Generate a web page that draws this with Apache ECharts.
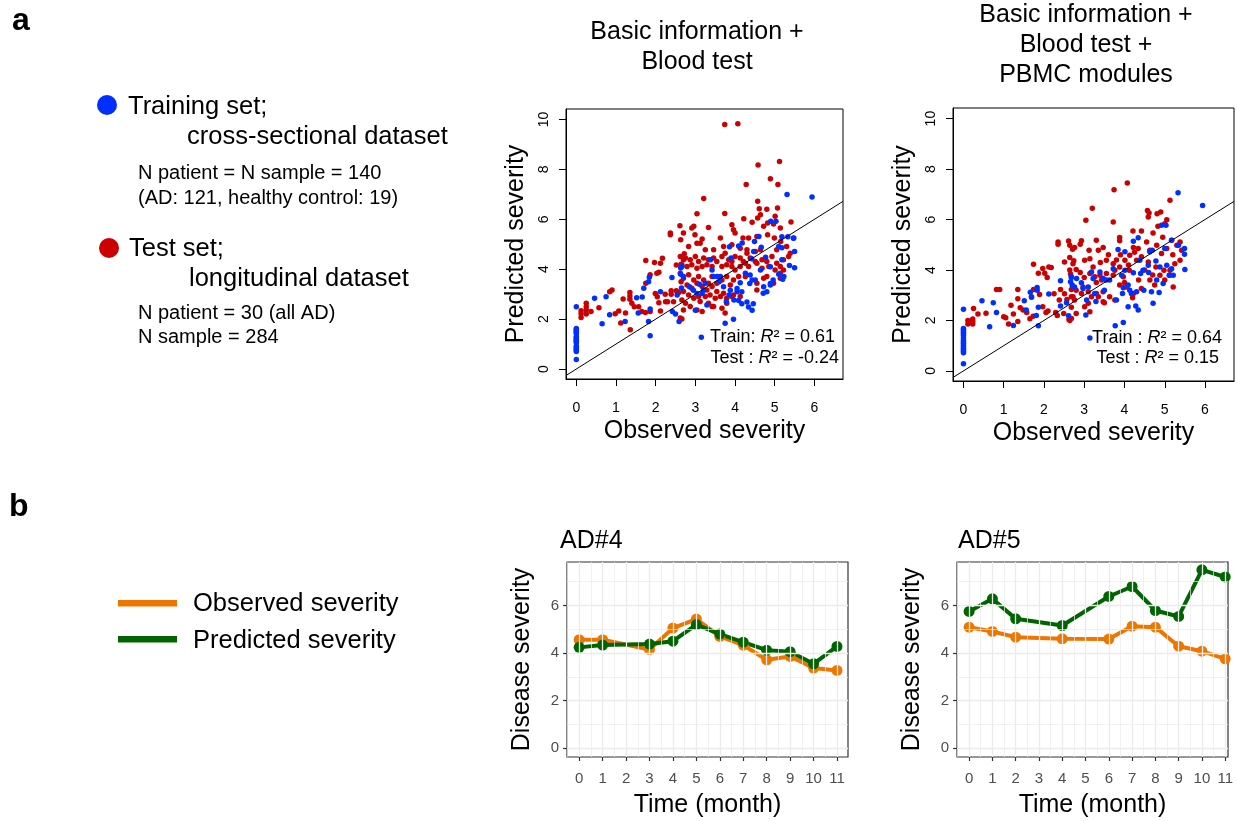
<!DOCTYPE html>
<html>
<head>
<meta charset="utf-8">
<title>Disease severity prediction</title>
<script src="https://cdn.jsdelivr.net/npm/echarts@6.0.0/dist/echarts.min.js"></script>
<style>
  html, body { margin: 0; padding: 0; background: #fff; }
  #chart { width: 1237px; height: 821px; }
</style>
</head>
<body>
<div id="chart"></div>
<script>
// panel a: observed vs predicted severity (x = observed, y = predicted)
const sevTicks = [0, 1, 2, 3, 4, 5, 6];
const predTicks = [0, 2, 4, 6, 8, 10];
const identityLine = [[-0.26, -0.26], [6.72, 6.72]];

const bloodTrain = [
  [0, 2.5], [0, 1.62], [0, 1.57], [0, 1.52], [0, 1.47], [0, 1.42], [0, 1.3], [0, 1.25], [0, 1.2],
  [0, 1.15], [0, 1.1], [0, 1.05], [0, 0.92], [0, 0.87], [0, 0.8], [0, 0.75], [0, 0.7], [0, 0.38],
  [0.46, 2.84], [0.75, 2.9], [0.65, 1.81], [0.84, 2.17], [1.23, 1.9], [1.52, 2.86], [1.56, 2.24],
  [1.66, 2.89], [1.7, 3.24], [1.82, 3.5], [1.84, 3.68], [1.82, 1.9], [1.86, 1.33], [1.86, 2.41],
  [2.12, 3.1], [2.41, 3.67], [2.42, 2.3], [2.5, 2.2], [2.54, 2.97], [2.59, 1.9], [2.63, 4.05],
  [2.63, 3.8], [2.65, 3.25], [3.15, 1.27],
  [5.31, 6.99], [4.9, 5.92], [5.03, 5.92], [3.86, 4.9], [4.09, 4.93], [4.42, 4.42], [4.66, 4.88],
  [4.77, 4.48], [5.18, 5.3], [5.33, 5.3], [5.47, 5.24], [5.18, 4.86], [5.37, 4.15], [5.5, 4.06],
  [5.2, 3.6], [5.1, 3.8], [4.89, 4.1], [4.64, 3.97], [4.38, 3.77], [4.43, 3.57], [4.37, 3.43],
  [4.13, 3.46], [4.05, 3.23], [3.88, 3.16], [3.71, 3.3], [3.63, 3.71], [3.46, 3.71], [3.42, 3.97],
  [3.21, 3.16], [3.17, 3.03], [2.95, 3.16], [3.04, 3.03], [2.7, 3.71], [2.66, 4.11], [3.0, 2.36],
  [3.75, 1.83], [3.96, 1.99], [4.17, 2.62], [4.3, 2.69], [4.34, 2.49], [4.43, 2.36], [4.72, 3.3],
  [4.89, 3.43], [4.09, 2.75], [4.17, 3.1], [4.46, 2.62],
  [3.38, 4.38], [3.55, 3.71], [3.25, 3.44], [3.29, 2.57], [3.78, 2.7], [3.85, 2.97], [3.97, 2.77],
  [4.05, 3.1], [4.26, 3.84], [4.47, 4.71], [4.49, 5.11], [4.51, 3.57], [4.71, 3.04], [4.8, 3.1],
  [4.89, 3.37], [4.96, 3.57], [5.1, 4.91], [5.18, 4.38], [5.23, 3.71], [5.48, 5.25], [5.5, 4.71],
  [5.94, 6.89], [4.6, 5.31], [4.18, 5.05], [3.9, 4.45], [3.6, 3.5], [2.85, 3.3], [3.1, 3.4]
];

const bloodTest = [
  [0.12, 2.34], [0.12, 2.21], [0.12, 2.06], [0.25, 2.64], [0.25, 2.5], [0.25, 2.37], [0.25, 2.2],
  [0.37, 2.3], [0.57, 2.46], [0.84, 3.1], [0.9, 3.17], [0.98, 2.21], [1.07, 2.33], [1.12, 1.84],
  [1.18, 2.81], [1.24, 2.24], [1.35, 3.07], [1.35, 2.93], [1.35, 2.8], [1.4, 2.64], [1.46, 2.5],
  [1.57, 2.5], [1.36, 1.57], [1.65, 2.3], [1.74, 2.26], [1.75, 3.44], [1.75, 4.35], [1.86, 3.78],
  [1.86, 2.3], [1.97, 4.27], [1.99, 3.03], [2.03, 3.84], [2.04, 2.9], [2.08, 3.88], [2.12, 4.24],
  [2.17, 4.44], [2.08, 2.66], [2.12, 2.33], [2.24, 3.0], [2.25, 2.7], [2.3, 2.7], [2.37, 5.45],
  [2.37, 5.38], [2.39, 3.14], [2.39, 3.0], [2.45, 2.7], [2.52, 4.17], [2.52, 3.14], [2.58, 3.07],
  [2.61, 5.74], [2.63, 5.18], [2.64, 4.2], [2.64, 3.5], [2.66, 2.0], [2.7, 4.38], [2.72, 4.62],
  [2.62, 4.51], [2.75, 4.45], [2.87, 4.38], [3.0, 4.51], [3.08, 4.31], [3.21, 4.45], [3.33, 4.38],
  [3.46, 4.45], [3.54, 4.31], [3.67, 4.51], [3.75, 4.64], [3.84, 4.38], [3.92, 4.31], [4.0, 4.51],
  [4.13, 4.45], [4.21, 4.31], [4.3, 4.64], [4.38, 4.45], [4.51, 4.31], [4.68, 4.38], [4.8, 4.31],
  [4.93, 4.51], [5.05, 4.24], [5.22, 4.38], [5.35, 4.51], [2.66, 4.18], [2.79, 4.11], [2.91, 4.18],
  [3.04, 4.04], [3.17, 4.11], [3.29, 4.18], [3.42, 4.11], [3.67, 4.11], [3.79, 4.18], [3.92, 4.11],
  [4.0, 3.97], [4.13, 4.11], [4.26, 4.24], [4.34, 4.11], [4.55, 4.24], [4.68, 4.04], [4.85, 4.11],
  [5.01, 3.97], [5.14, 4.11],
  [2.62, 3.84], [2.7, 3.64], [2.83, 3.78], [2.96, 3.57], [3.08, 3.71], [3.21, 3.57], [3.33, 3.44],
  [3.42, 3.71], [3.54, 3.44], [3.67, 3.57], [3.79, 3.71], [3.96, 3.57], [4.09, 3.71], [4.26, 3.71],
  [2.79, 3.37], [2.91, 3.24], [3.04, 3.44], [3.17, 3.31], [3.29, 3.17], [3.42, 3.31], [3.54, 3.11],
  [3.71, 3.04], [3.88, 3.37], [2.7, 3.11], [2.83, 2.97], [2.96, 2.84], [3.08, 2.91], [3.25, 2.91],
  [3.37, 2.97], [3.5, 2.84], [3.63, 2.91], [3.79, 2.84], [3.96, 2.97], [4.55, 3.44], [4.72, 3.64],
  [4.97, 3.44], [5.14, 3.84], [5.22, 3.97], [2.66, 2.77], [2.75, 2.64], [3.12, 2.71], [3.33, 2.64],
  [3.46, 2.51], [3.79, 2.64], [3.92, 2.91], [4.13, 2.91], [4.55, 3.17], [5.14, 3.64], [4.8, 3.71],
  [2.87, 2.51], [3.04, 2.37], [3.17, 2.3], [3.42, 2.51], [3.67, 2.44], [3.75, 2.24], [2.62, 2.04],
  [2.7, 2.37],
  [3.74, 9.8], [4.07, 9.83], [4.58, 8.18], [5.12, 8.32], [4.89, 7.62], [4.28, 7.39], [5.08, 7.39],
  [3.21, 6.83], [4.57, 6.72], [4.61, 6.42], [3.74, 6.23], [3.04, 6.22], [4.22, 6.02], [4.43, 5.88],
  [4.64, 6.18], [4.8, 6.4], [5.07, 6.45], [5.01, 6.12], [4.57, 6.05], [4.82, 5.85], [4.97, 5.81],
  [2.96, 5.72], [2.91, 5.65], [3.33, 5.67], [3.92, 5.78], [3.96, 5.58], [4.72, 5.72], [5.14, 5.65],
  [5.41, 5.89], [2.7, 5.45], [2.99, 5.38], [3.17, 5.21], [3.63, 5.25], [4.0, 5.45], [4.2, 5.25],
  [4.34, 5.25], [4.55, 5.31], [4.82, 5.38], [4.99, 5.25], [2.83, 4.91], [3.04, 5.04], [3.12, 5.04],
  [3.25, 4.78], [3.46, 4.78], [3.71, 4.91], [3.92, 4.98], [4.13, 4.84], [4.3, 4.78], [4.51, 4.71],
  [4.64, 4.78], [5.05, 4.78], [5.15, 5.11], [5.3, 4.91], [5.39, 4.64]
];

const pbmcTrain = [
  [0, 2.44], [0, 1.68], [0, 1.63], [0, 1.58], [0, 1.52], [0, 1.47], [0, 1.4], [0, 1.3], [0, 1.22],
  [0, 1.15], [0, 1.1], [0, 1.03], [0, 0.97], [0, 0.9], [0, 0.84], [0, 0.78], [0, 0.72], [0, 0.28],
  [0.46, 2.78], [0.65, 1.75], [0.74, 2.7], [0.82, 2.31], [1.24, 1.8], [1.51, 2.78], [1.56, 2.41],
  [1.66, 3.12], [1.69, 2.92], [1.83, 3.31], [1.83, 3.2], [1.81, 2.2], [1.86, 2.52], [1.86, 1.79],
  [2.12, 3.05], [2.41, 3.57], [2.41, 2.57], [2.56, 2.7], [2.61, 2.19], [2.66, 3.53], [2.68, 3.7],
  [2.7, 3.4], [3.14, 1.3],
  [5.33, 7.06], [5.94, 6.56], [4.92, 5.77], [5.03, 5.77], [4.34, 5.28], [4.22, 5.14], [3.84, 4.81],
  [4.01, 4.72], [4.63, 4.72], [4.69, 4.78], [5.0, 4.85], [5.17, 5.18], [5.34, 4.98], [5.49, 4.85],
  [5.49, 4.62], [5.5, 4.02], [5.21, 3.79], [5.17, 4.05], [5.05, 4.19], [4.88, 4.12], [4.78, 4.36],
  [4.59, 4.19], [4.46, 3.99], [4.4, 3.86], [4.22, 3.89], [4.01, 3.99], [3.93, 3.79], [3.72, 4.05],
  [3.63, 3.6], [3.55, 3.6], [3.47, 3.66], [3.39, 3.92], [3.18, 3.92], [3.22, 3.66], [3.1, 3.33],
  [2.97, 3.27], [2.93, 3.49], [2.81, 3.66], [2.68, 3.73], [2.76, 3.33], [3.06, 2.81], [3.04, 2.22],
  [3.29, 2.75], [3.26, 3.07], [3.8, 2.81], [3.95, 3.07], [3.97, 3.3], [4.09, 3.4], [4.13, 3.2],
  [4.17, 3.07], [4.3, 3.14], [4.09, 2.54], [4.28, 2.57], [4.34, 2.41], [4.48, 3.2], [4.67, 3.14],
  [4.71, 2.68], [4.86, 3.11], [5.11, 3.79], [4.96, 3.46], [4.8, 3.6], [3.77, 1.79], [3.97, 1.92],
  [4.38, 4.39], [4.6, 3.9], [3.5, 3.2]
];

const pbmcTest = [
  [0.11, 2.0], [0.11, 1.86], [0.23, 2.06], [0.23, 1.96], [0.23, 1.86], [0.25, 2.47], [0.36, 2.26],
  [0.56, 2.29], [0.82, 3.23], [0.9, 3.23], [1.0, 2.15], [1.05, 2.11], [1.12, 1.86], [1.18, 2.6],
  [1.24, 2.26], [1.35, 3.23], [1.35, 2.86], [1.35, 1.96], [1.41, 2.5], [1.48, 2.41], [1.57, 2.31],
  [1.65, 2.07], [1.69, 2.94], [1.74, 3.23], [1.74, 4.23], [1.86, 3.87], [1.97, 4.06], [2.02, 3.87],
  [2.08, 3.7], [2.12, 4.12], [2.18, 4.1], [1.73, 2.17], [1.89, 3.03], [1.97, 2.54], [2.05, 2.31],
  [2.1, 2.37], [2.25, 3.06], [2.29, 2.31], [2.33, 2.2], [2.38, 2.81], [2.41, 3.23], [2.49, 2.28],
  [2.51, 3.06], [2.51, 4.32], [2.35, 5.11], [2.35, 5.02], [2.61, 5.15], [2.64, 4.98], [2.71, 4.82],
  [2.57, 2.83], [2.62, 2.04], [2.68, 2.52], [2.64, 4.0], [2.66, 3.84], [2.68, 3.23], [2.72, 2.94],
  [2.74, 4.37],
  [4.07, 7.45], [3.74, 7.18], [3.2, 6.45], [3.04, 5.97], [3.72, 5.9], [4.57, 6.36], [4.61, 6.26],
  [4.59, 6.1], [4.81, 6.23], [4.9, 6.3], [5.13, 6.76], [5.05, 5.99], [5.0, 5.83], [4.83, 5.73],
  [4.71, 5.47], [4.42, 5.55], [4.21, 5.55], [3.88, 5.29], [3.88, 5.16], [2.93, 5.16], [2.9, 5.02],
  [3.3, 5.18], [3.47, 4.89], [3.35, 4.78], [3.12, 4.78], [2.76, 4.89],
  [2.64, 4.49], [2.72, 4.25], [2.8, 4.02], [3.01, 4.39], [3.14, 4.45], [3.22, 4.12], [3.14, 3.86],
  [3.26, 3.73], [3.39, 3.79], [3.55, 4.39], [3.72, 4.25], [3.76, 3.99], [3.88, 4.12], [4.01, 4.39],
  [4.13, 4.58], [4.22, 4.89], [4.34, 4.85], [4.55, 5.11], [4.63, 4.78], [4.8, 4.98], [4.92, 4.65],
  [5.05, 4.85], [5.17, 5.18], [5.3, 4.98], [5.38, 5.11], [5.42, 4.78], [5.38, 4.39], [5.25, 4.25],
  [5.13, 3.99], [4.98, 3.99], [4.78, 4.12], [4.59, 4.32], [4.42, 4.52], [4.3, 4.39], [4.12, 3.99],
  [3.97, 3.73], [3.72, 3.79], [3.55, 3.86], [3.43, 3.6], [2.97, 3.33], [2.8, 3.2], [2.68, 2.94],
  [2.76, 2.81], [2.93, 3.07], [3.1, 3.14], [3.18, 2.94], [3.3, 3.07], [3.47, 3.14], [3.63, 2.94],
  [3.76, 2.81], [3.88, 3.4], [4.05, 3.33], [4.22, 3.07], [4.42, 3.27], [4.63, 3.6], [4.75, 3.4],
  [4.88, 3.79], [5.0, 3.6], [5.13, 3.79], [5.21, 3.33], [3.01, 2.54], [3.14, 2.34], [2.68, 2.08],
  [2.8, 2.28], [3.1, 2.68], [3.47, 2.74], [3.35, 2.94], [2.64, 2.0],
  [3.3, 3.5], [3.6, 4.6], [3.9, 4.6], [4.1, 4.2], [4.5, 4.0], [4.7, 3.8], [3.0, 3.7], [3.4, 4.3],
  [4.0, 3.5], [4.35, 3.6], [2.9, 3.9], [3.8, 4.4], [4.25, 4.7], [4.95, 5.3], [5.2, 4.6], [3.5, 2.7],
  [4.2, 2.9]
];

// panel b: severity over time for two patients
const monthTicks = [0, 1, 2, 3, 4, 5, 6, 7, 8, 9, 10, 11];
const severityTicks = [0, 2, 4, 6];
const gridMajorX = [0, 1, 2, 3, 4, 5, 6, 7, 8, 9, 10, 11];
const gridMinorX = [-0.5, 0.5, 1.5, 2.5, 3.5, 4.5, 5.5, 6.5, 7.5, 8.5, 9.5, 10.5, 11.5];
const gridMajorY = [0, 2, 4, 6];
const gridMinorY = [1, 3, 5, 7];

const ad4Months = [0, 1, 3, 4, 5, 6, 7, 8, 9, 10, 11];
const ad4Observed = [4.56, 4.56, 4.15, 5.05, 5.43, 4.7, 4.33, 3.72, 3.86, 3.37, 3.27];
const ad4Predicted = [4.24, 4.34, 4.38, 4.5, 5.2, 4.8, 4.46, 4.12, 4.06, 3.55, 4.28];

const ad5Months = [0, 1, 2, 4, 6, 7, 8, 9, 10, 11];
const ad5Observed = [5.09, 4.91, 4.67, 4.6, 4.59, 5.13, 5.09, 4.29, 4.08, 3.76];
const ad5Predicted = [5.75, 6.28, 5.44, 5.16, 6.38, 6.8, 5.79, 5.54, 7.5, 7.2];

const FONT = '"Liberation Sans", Arial, Helvetica, sans-serif';
const BLUE = '#0030FF';
const RED = '#CC0000';
const ORANGE = '#EE7600';
const GREEN = '#006400';

const zip = (xs, ys) => xs.map((x, i) => [x, ys[i]]);

function sevXAxis(grid) {
  return {
    gridIndex: grid, type: 'value', min: -0.26, max: 6.72,
    name: 'Observed severity', nameLocation: 'middle', nameGap: 40,
    nameTextStyle: { fontSize: 25, color: '#000', fontFamily: FONT },
    axisLine: { show: true, onZero: false, lineStyle: { color: '#000', width: 1 } },
    axisTick: { show: true, length: 7, customValues: sevTicks, lineStyle: { color: '#000' } },
    axisLabel: { customValues: sevTicks, margin: 22, fontSize: 14, color: '#000', fontFamily: FONT },
    splitLine: { show: false },
  };
}

function predYAxis(grid) {
  return {
    gridIndex: grid, type: 'value', min: -0.4, max: 10.42,
    name: 'Predicted severity', nameLocation: 'middle', nameGap: 37,
    nameTextStyle: { fontSize: 25, color: '#000', fontFamily: FONT },
    axisLine: { show: true, onZero: false, lineStyle: { color: '#000', width: 1 } },
    axisTick: { show: true, length: 7, customValues: predTicks, lineStyle: { color: '#000' } },
    axisLabel: { customValues: predTicks, rotate: 90, margin: 15, fontSize: 14, color: '#000', fontFamily: FONT },
    splitLine: { show: false },
  };
}

function timeXAxis(grid, max) {
  return {
    gridIndex: grid, type: 'value', min: -0.52, max: max,
    name: 'Time (month)', nameLocation: 'middle', nameGap: 36,
    nameTextStyle: { fontSize: 25, color: '#000', fontFamily: FONT },
    axisLine: { show: false, onZero: false },
    axisTick: { show: true, length: 4, customValues: monthTicks, lineStyle: { color: '#333', width: 1.2 } },
    axisLabel: { customValues: monthTicks, margin: 14, fontSize: 15, color: '#4d4d4d', fontFamily: FONT },
    splitLine: { show: false },
  };
}

function severityYAxis(grid) {
  return {
    gridIndex: grid, type: 'value', min: -0.37, max: 7.83,
    name: 'Disease severity', nameLocation: 'middle', nameGap: 32,
    nameTextStyle: { fontSize: 25, color: '#000', fontFamily: FONT },
    axisLine: { show: false, onZero: false },
    axisTick: { show: true, length: 4, customValues: severityTicks, lineStyle: { color: '#333', width: 1.2 } },
    axisLabel: { customValues: severityTicks, margin: 8, fontSize: 15, color: '#4d4d4d', fontFamily: FONT },
    splitLine: { show: false },
  };
}

function dots(name, idx, data, color) {
  return {
    name, type: 'scatter', xAxisIndex: idx, yAxisIndex: idx, data,
    symbolSize: 5.5, itemStyle: { color, opacity: 1 }, silent: true,
  };
}

function diagonal(idx) {
  return {
    type: 'line', xAxisIndex: idx, yAxisIndex: idx, data: identityLine,
    symbol: 'none', silent: true, z: 3,
    lineStyle: { color: '#000', width: 1 },
  };
}

// ggplot-like background grid drawn with markLines
function panelGrid(idx) {
  const major = gridMajorX.map(v => ({ xAxis: v })).concat(gridMajorY.map(v => ({ yAxis: v })));
  const minor = gridMinorX.map(v => ({ xAxis: v })).concat(gridMinorY.map(v => ({ yAxis: v })));
  const ml = (data, width) => ({
    type: 'line', xAxisIndex: idx, yAxisIndex: idx, data: [], silent: true, z: 0,
    markLine: {
      silent: true, symbol: ['none', 'none'], label: { show: false }, animation: false,
      lineStyle: { color: '#ebebeb', width, type: 'solid' }, data,
    },
  });
  return [ml(minor, 0.7), ml(major, 1.3)];
}

function trend(name, idx, data, color) {
  return {
    name, type: 'line', xAxisIndex: idx, yAxisIndex: idx, data,
    symbol: 'circle', symbolSize: 11, showSymbol: true,
    lineStyle: { color, width: 4 }, itemStyle: { color, borderWidth: 0 },
  };
}

function txt(text, x, y, size, extra) {
  return {
    type: 'text', x, y, silent: true,
    style: Object.assign({
      text, fontSize: size, fontFamily: FONT, fill: '#000',
      align: 'left', verticalAlign: 'middle',
    }, extra || {}),
  };
}

function r2(text, x, y) {
  return txt(text, x, y, 18, {
    align: 'right',
    rich: { it: { fontStyle: 'italic', fontSize: 18, fontFamily: FONT, fill: '#000' } },
  });
}

const graphics = [
  txt('a', 12, 21, 32, { fontWeight: 'bold' }),
  txt('b', 9, 507, 32, { fontWeight: 'bold' }),

  // training / test description
  { type: 'circle', shape: { cx: 107, cy: 105, r: 10 }, style: { fill: BLUE }, silent: true },
  txt('Training set;', 128, 107, 25.5),
  txt('cross-sectional dataset', 187, 137, 25.5),
  txt('N patient = N sample = 140', 138, 173, 20),
  txt('(AD: 121, healthy control: 19)', 138, 198, 20),
  { type: 'circle', shape: { cx: 109, cy: 248, r: 10 }, style: { fill: RED }, silent: true },
  txt('Test set;', 129, 249, 25.5),
  txt('longitudinal dataset', 189, 279, 25.5),
  txt('N patient = 30 (all AD)', 138, 313, 20),
  txt('N sample = 284', 138, 337, 20),

  // scatter titles
  txt('Basic information +', 697, 32, 25, { align: 'center' }),
  txt('Blood test', 697, 62, 25, { align: 'center' }),
  txt('Basic information +', 1086, 15, 25, { align: 'center' }),
  txt('Blood test +', 1086, 45, 25, { align: 'center' }),
  txt('PBMC modules', 1086, 75, 25, { align: 'center' }),

  r2('Train: {it|R}² = 0.61', 835, 337),
  r2('Test : {it|R}² = -0.24', 839, 358),
  r2('Train : {it|R}² = 0.64', 1222, 338),
  r2('Test : {it|R}² = 0.15', 1219, 358),

  // panel b legend and titles
  { type: 'rect', shape: { x: 118, y: 600, width: 59, height: 6.5 }, style: { fill: ORANGE }, silent: true },
  txt('Observed severity', 193, 604, 25.5),
  { type: 'rect', shape: { x: 118, y: 636, width: 59, height: 6.5 }, style: { fill: GREEN }, silent: true },
  txt('Predicted severity', 193, 641, 25.5),
  txt('AD#4', 560, 541, 25),
  txt('AD#5', 958, 541, 25),
];

const chart = echarts.init(document.getElementById('chart'), null, { renderer: 'canvas' });

chart.setOption({
  animation: false,
  backgroundColor: '#fff',
  textStyle: { fontFamily: FONT },
  grid: [
    { left: 566, top: 109, width: 277, height: 270, show: true, borderColor: '#000', borderWidth: 1, backgroundColor: 'transparent' },
    { left: 953, top: 108, width: 281, height: 273, show: true, borderColor: '#000', borderWidth: 1, backgroundColor: 'transparent' },
    { left: 567, top: 562, width: 281, height: 195, show: true, borderColor: '#333', borderWidth: 1.2, backgroundColor: 'transparent' },
    { left: 957, top: 562, width: 271, height: 195, show: true, borderColor: '#333', borderWidth: 1.2, backgroundColor: 'transparent' },
  ],
  xAxis: [sevXAxis(0), sevXAxis(1), timeXAxis(2, 11.47), timeXAxis(3, 11.12)],
  yAxis: [predYAxis(0), predYAxis(1), severityYAxis(2), severityYAxis(3)],
  series: [
    dots('Test set', 0, bloodTest, RED),
    dots('Training set', 0, bloodTrain, BLUE),
    diagonal(0),
    dots('Test set', 1, pbmcTest, RED),
    dots('Training set', 1, pbmcTrain, BLUE),
    diagonal(1),
    ...panelGrid(2),
    trend('Observed severity', 2, zip(ad4Months, ad4Observed), ORANGE),
    trend('Predicted severity', 2, zip(ad4Months, ad4Predicted), GREEN),
    ...panelGrid(3),
    trend('Observed severity', 3, zip(ad5Months, ad5Observed), ORANGE),
    trend('Predicted severity', 3, zip(ad5Months, ad5Predicted), GREEN),
  ],
  graphic: graphics,
});

window.addEventListener('resize', () => chart.resize());
</script>
</body>
</html>
